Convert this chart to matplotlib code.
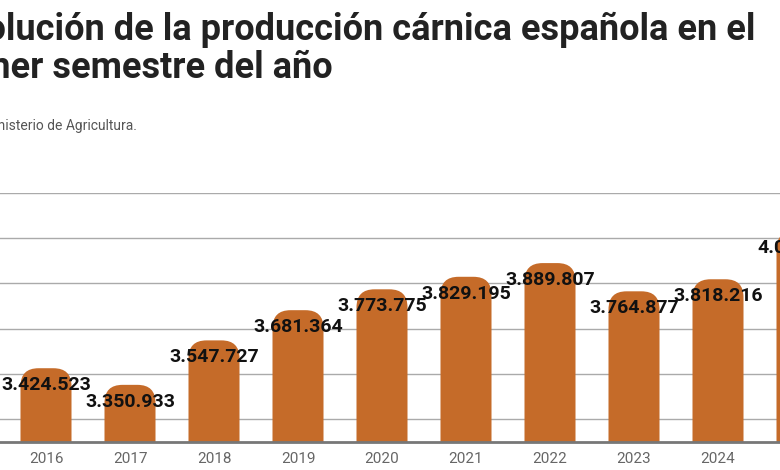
import matplotlib
matplotlib.use("Agg")
import matplotlib.pyplot as plt
from matplotlib.patches import FancyBboxPatch

# data
years = ["2016", "2017", "2018", "2019", "2020", "2021", "2022", "2023", "2024", "2025"]
toneladas = [3424523, 3350933, 3547727, 3681364, 3773775, 3829195, 3889807, 3764877, 3818216, 4031000]

title_1 = "Evolución de la producción cárnica española en el"
title_2 = "primer semestre del año"
source = "Fuente: Ministerio de Agricultura."

BAR_COLOR = "#c56b29"
W, H = 780, 470


def fmt(v):
    return f"{v:,}".replace(",", ".")


fig = plt.figure(figsize=(W / 100, H / 100), dpi=100)
fig.patch.set_facecolor("white")

# axes in pixel terms: baseline at y=442, top gridline at y=193
ax = fig.add_axes([0, (H - 442) / H, 1, (442 - 193) / H])
ymin, ymax = 3098000, 4200000

ax.set_yticks(range(3200000, 4200001, 200000))
ax.yaxis.grid(True, color="#aaaaaa", linewidth=1, zorder=0)
ax.set_axisbelow(True)
ax.tick_params(axis="y", left=False, labelleft=False)

ax.set_xticks(range(len(years)))
ax.set_xticklabels(years, family="Roboto", fontsize=11, color="#666666")
ax.tick_params(axis="x", length=0, pad=7)

# limits after ticks (set_xticks would widen the view)
ax.set_ylim(ymin, ymax)
ax.set_xlim(-46 / 84, (W - 46) / 84)

# px -> data conversion for rounded tops
px_y = (ymax - ymin) / (442 - 193)
px_x = 1 / 84
bar_w = 51 * px_x
r_x = 18 * px_x
r_y = 18 * px_y

for i, v in enumerate(toneladas):
    bottom = ymin - 200000
    p = FancyBboxPatch((i - bar_w / 2 + r_x, bottom + r_y), bar_w - 2 * r_x, v - bottom - 2 * r_y,
                       boxstyle=f"round,pad={r_x},rounding_size={r_x}",
                       mutation_aspect=r_y / r_x,
                       fc=BAR_COLOR, ec="none", zorder=2)
    ax.add_patch(p)
    ax.annotate(fmt(v), (i, v), xytext=(0, -17), textcoords="offset pixels",
                ha="center", va="center", fontsize=14, fontweight="bold",
                color="#111111", family="Roboto", zorder=4, annotation_clip=False)

for s in ["top", "left", "right"]:
    ax.spines[s].set_visible(False)
ax.spines["bottom"].set_color("#777777")
ax.spines["bottom"].set_linewidth(2)
ax.spines["bottom"].set_zorder(3)

# title and source (left part cropped as in reference)
fig.text(755 / W, 1 - 40 / H, title_1, ha="right", va="baseline", fontsize=26,
         fontweight="bold", color="#222222", family="Roboto")
fig.text(333 / W, 1 - 78 / H, title_2, ha="right", va="baseline", fontsize=26,
         fontweight="bold", color="#222222", family="Roboto")
fig.text(137 / W, 1 - 130 / H, source, ha="right", va="baseline", fontsize=10,
         color="#555555", family="Roboto")

fig.savefig("out.png", dpi=100)
